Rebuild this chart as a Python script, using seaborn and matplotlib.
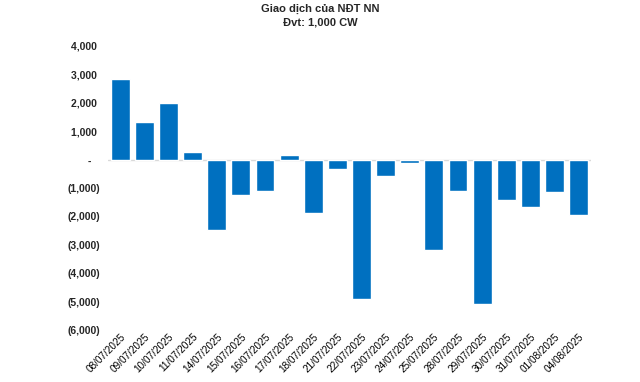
import matplotlib
matplotlib.use("Agg")
import matplotlib.pyplot as plt
import seaborn as sns
import pandas as pd
from matplotlib.ticker import FuncFormatter, FixedLocator

dates = ["08/07/2025", "09/07/2025", "10/07/2025", "11/07/2025", "14/07/2025",
         "15/07/2025", "16/07/2025", "17/07/2025", "18/07/2025", "21/07/2025",
         "22/07/2025", "23/07/2025", "24/07/2025", "25/07/2025", "28/07/2025",
         "29/07/2025", "30/07/2025", "31/07/2025", "01/08/2025", "04/08/2025"]
values = [2830, 1310, 1980, 257, -2490,
          -1245, -1115, 150, -1890, -330,
          -4910, -580, -120, -3195, -1115,
          -5095, -1435, -1680, -1150, -1950]
yticks = [4000, 3000, 2000, 1000, 0, -1000, -2000, -3000, -4000, -5000, -6000]
title_lines = ["Giao dịch của NĐT NN", "Đvt: 1,000 CW"]

sns.set_style("white")
plt.rcParams['font.family'] = ['Liberation Sans', 'DejaVu Sans']

df = pd.DataFrame({"date": dates, "value": values})

fig = plt.figure(figsize=(6.4, 3.82), dpi=100)
ax = fig.add_axes([0.169, 0.136, 0.754, 0.744])
sns.barplot(data=df, x="date", y="value", color="#0070C0", saturation=1,
            width=0.78, ax=ax)

ax.set_ylim(-6000, 4000)
ax.set_xlim(-0.5, len(dates) - 0.5)
ax.yaxis.set_major_locator(FixedLocator(yticks))

def fmt(v, pos):
    if abs(v) < 1e-9:
        return "-   "
    if v < 0:
        return "({:,.0f})".format(-v)
    return "{:,.0f} ".format(v)

ax.yaxis.set_major_formatter(FuncFormatter(fmt))
for lab in ax.get_yticklabels():
    lab.set_fontweight("bold")
    lab.set_fontsize(7.5)
ax.tick_params(axis="y", length=0, pad=6)
ax.tick_params(axis="x", length=0, pad=1)
ax.set_xticks(range(len(dates)))
ax.set_xticklabels(dates, rotation=45, ha="right", rotation_mode="anchor",
                   fontsize=7.2, color="black")
ax.set_xlabel("")
ax.set_ylabel("")
for s in ax.spines.values():
    s.set_visible(False)
ax.axhline(0, color="#D9D9D9", lw=1.0, zorder=0)

fig.text(0.5, 1 - 8.5 / 382, title_lines[0], ha="center", va="center", fontsize=8, fontweight="bold")
fig.text(0.5, 1 - 22.5 / 382, title_lines[1], ha="center", va="center", fontsize=8, fontweight="bold")

fig.savefig("out.png", dpi=100)
